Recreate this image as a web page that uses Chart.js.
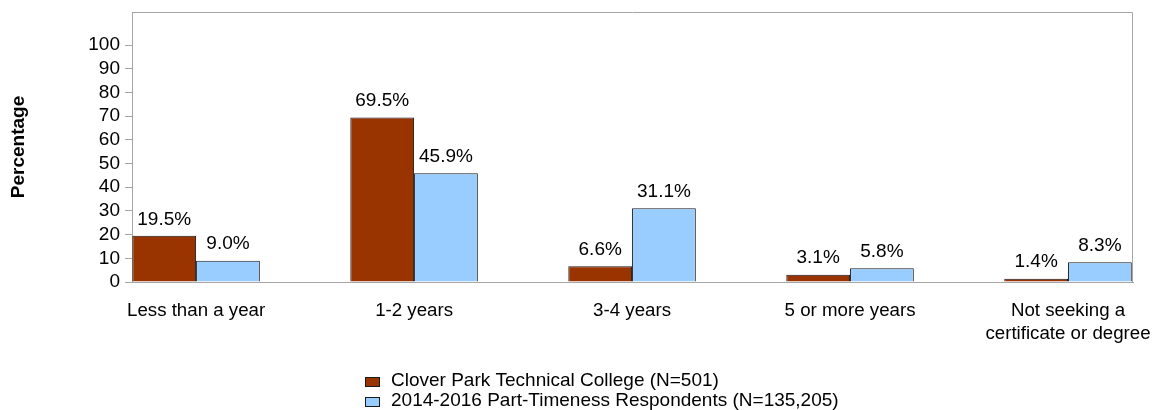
<!DOCTYPE html>
<html>
<head>
<meta charset="utf-8">
<script src="https://cdn.jsdelivr.net/npm/chart.js@4/dist/chart.umd.min.js"></script>
<style>
  body { margin: 0; background: #fff; }
  #wrap { width: 1153px; height: 410px; position: relative; }
</style>
</head>
<body>
<div id="wrap"><canvas id="chart"></canvas></div>
<script>
const categories = ['Less than a year', '1-2 years', '3-4 years', '5 or more years', ['Not seeking a', 'certificate or degree']];
const seriesNames = ['Clover Park Technical College (N=501)', '2014-2016 Part-Timeness Respondents (N=135,205)'];
const cloverPark = [19.5, 69.5, 6.6, 3.1, 1.4];
const allRespondents = [9.0, 45.9, 31.1, 5.8, 8.3];
const yTicks = [0, 10, 20, 30, 40, 50, 60, 70, 80, 90, 100];

const FONT = 'Liberation Sans, Arial, sans-serif';
const GRAY = '#a6a6a6';
const colours = ['#993300', '#99ccff'];

const frame = {
    id: 'frame',
    beforeDatasetsDraw(chart) {
        const {ctx, chartArea: a} = chart;
        ctx.save();
        ctx.strokeStyle = GRAY;
        ctx.lineWidth = 1;
        ctx.beginPath();
        ctx.moveTo(a.left + 0.5, a.bottom);
        ctx.lineTo(a.left + 0.5, a.top + 0.5);
        ctx.lineTo(a.right - 0.5, a.top + 0.5);
        ctx.lineTo(a.right - 0.5, a.bottom);
        ctx.stroke();
        ctx.restore();
    }
};

const valueLabels = {
    id: 'valueLabels',
    afterDatasetsDraw(chart) {
        const ctx = chart.ctx;
        ctx.save();
        ctx.font = '19px ' + FONT;
        ctx.fillStyle = '#000';
        ctx.textAlign = 'center';
        ctx.textBaseline = 'bottom';
        chart.data.datasets.forEach((ds, i) => {
            chart.getDatasetMeta(i).data.forEach((el, j) => {
                ctx.fillText(ds.data[j].y.toFixed(1) + '%', el.x, el.y - 7);
            });
        });
        ctx.restore();
    }
};

const legendBlock = {
    id: 'legendBlock',
    afterDraw(chart) {
        const ctx = chart.ctx;
        ctx.save();
        ctx.font = '19px ' + FONT;
        ctx.textBaseline = 'middle';
        chart.data.datasets.forEach((ds, i) => {
            const y = 381 + i * 20;
            ctx.fillStyle = ds.backgroundColor;
            ctx.fillRect(365.5, y - 3.5, 14, 9);
            ctx.strokeStyle = '#1a1a1a';
            ctx.lineWidth = 1;
            ctx.strokeRect(365.5, y - 3.5, 14, 9);
            ctx.fillStyle = '#000';
            ctx.fillText(ds.label, 391, y);
        });
        ctx.restore();
    }
};

new Chart(document.getElementById('chart'), {
    type: 'bar',
    data: {
        datasets: [
            {
                label: seriesNames[0],
                data: cloverPark.map((v, i) => ({x: i, y: v})),
                backgroundColor: colours[0],
                borderColor: '#1a1a1a',
                borderWidth: 1,
                borderSkipped: 'bottom',
                categoryPercentage: 0.585,
                barPercentage: 1
            },
            {
                label: seriesNames[1],
                data: allRespondents.map((v, i) => ({x: i, y: v})),
                backgroundColor: colours[1],
                borderColor: '#1a1a1a',
                borderWidth: 1,
                borderSkipped: 'bottom',
                categoryPercentage: 0.585,
                barPercentage: 1
            }
        ]
    },
    options: {
        responsive: true,
        maintainAspectRatio: false,
        animation: false,
        layout: { padding: { left: 0, top: 12, right: 20, bottom: 0 } },
        scales: {
            x: {
                type: 'linear',
                offset: false,
                min: -0.294,
                max: 4.298,
                afterBuildTicks: (scale) => {
                    scale.ticks = categories.map((c, i) => ({value: i}));
                },
                afterFit: (scale) => {
                    scale.height = 128;
                    scale.paddingLeft = 0;
                    scale.paddingRight = 0;
                },
                ticks: {
                    autoSkip: false,
                    maxRotation: 0,
                    padding: 18,
                    color: '#000',
                    font: { family: FONT, size: 18.7 },
                    callback: (v) => categories[v]
                },
                grid: { display: true, offset: false, drawOnChartArea: false, drawTicks: false, color: GRAY },
                border: { display: true, color: GRAY }
            },
            y: {
                min: 0,
                max: 114,
                afterBuildTicks: (scale) => {
                    scale.ticks = yTicks.map(v => ({value: v}));
                },
                afterFit: (scale) => {
                    scale.width = 132;
                    scale.paddingTop = 0;
                    scale.paddingBottom = 0;
                },
                ticks: {
                    padding: 5,
                    color: '#000',
                    font: { family: FONT, size: 19 }
                },
                grid: { display: true, drawOnChartArea: false, drawTicks: true, tickLength: 7, color: GRAY },
                border: { display: true, color: GRAY },
                title: {
                    display: true,
                    text: 'Percentage',
                    color: '#000',
                    font: { family: FONT, size: 19, weight: 'bold' },
                    padding: { top: 7, bottom: 0 }
                }
            }
        },
        plugins: {
            legend: { display: false },
            tooltip: { enabled: false }
        }
    },
    plugins: [frame, valueLabels, legendBlock]
});
</script>
</body>
</html>
